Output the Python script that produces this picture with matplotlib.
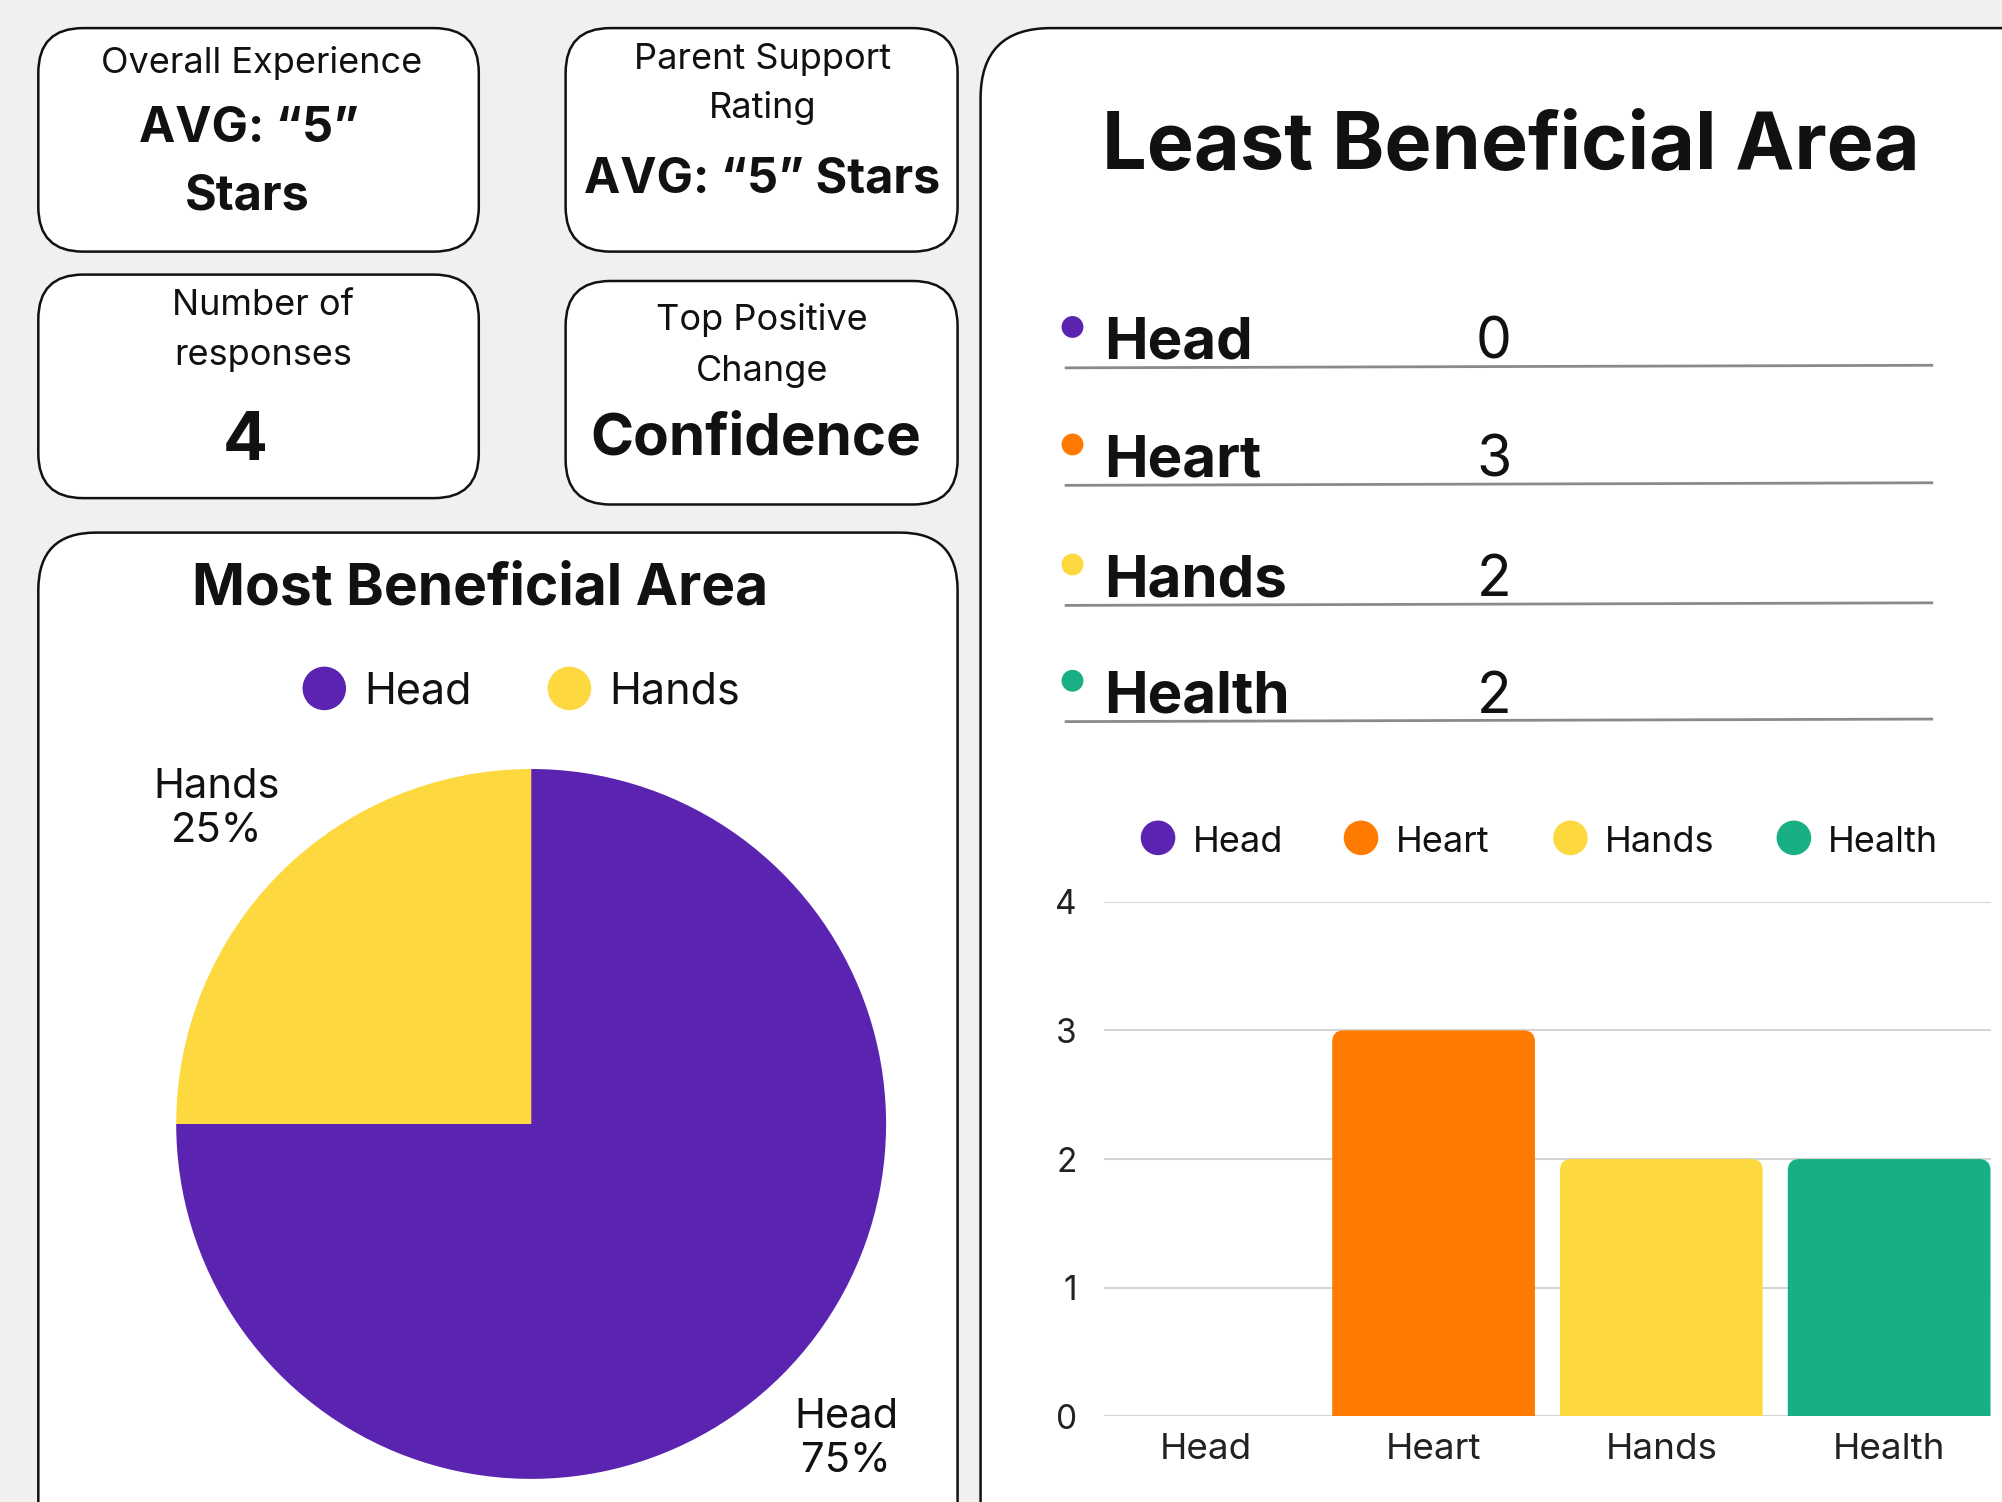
import matplotlib.pyplot as plt
from matplotlib.patches import FancyBboxPatch, Circle

plt.rcParams['font.family'] = ['Inter', 'DejaVu Sans']

# data
pie_labels = ['Head', 'Hands']
pie_values = [3, 1]
pie_colors = ['#5b24b0', '#fdd83f']

areas = ['Head', 'Heart', 'Hands', 'Health']
least_counts = [0, 3, 2, 2]
area_colors = ['#5b24b0', '#ff7a00', '#fdd83f', '#19af85']

n_responses = 4
top_change = 'Confidence'

# layout works in a 1568x1176 grid laid over the figure
W, H = 1568, 1176
INK = '#111111'

fig = plt.figure(figsize=(20.02, 15.02), dpi=100)
fig.patch.set_facecolor('#f0f0f0')
bg = fig.add_axes([0, 0, 1, 1])
bg.set_xlim(0, W)
bg.set_ylim(H, 0)
bg.axis('off')


def card(x0, y0, x1, y1, r):
    bg.add_patch(FancyBboxPatch((x0, y0), x1 - x0, y1 - y0,
                                boxstyle=f"round,pad=0,rounding_size={r}",
                                fc='white', ec=INK, lw=1.8))


def txt(x, y, s, size, bold=False, ha='center'):
    bg.text(x, y, s, fontsize=size, fontweight='bold' if bold else 'normal',
            ha=ha, va='baseline', color=INK)


# small cards
card(30, 22, 375, 197, 35)
txt(205, 57, 'Overall Experience', 26)
txt(195, 111, 'AVG: \u201c5\u201d', 35, bold=True)
txt(194, 164, 'Stars', 35, bold=True)

card(443, 22, 750, 197, 35)
txt(597, 54, 'Parent Support', 26)
txt(597, 92, 'Rating', 26)
txt(597, 151, 'AVG: \u201c5\u201d Stars', 35, bold=True)

card(30, 215, 375, 390, 35)
txt(206, 247, 'Number of', 26)
txt(206, 286, 'responses', 26)
txt(192, 360, str(n_responses), 48, bold=True)

card(443, 220, 750, 395, 35)
txt(597, 258, 'Top Positive', 26)
txt(597, 298, 'Change', 26)
txt(592, 356, top_change, 42, bold=True)

# pie card
card(30, 417, 750, 1240, 45)
txt(376, 473, 'Most Beneficial Area', 41, bold=True)
for lab, col, x in zip(pie_labels, pie_colors, [254, 446]):
    bg.add_patch(Circle((x, 539), 16.5, color=col))
    txt(x + 31, 551, lab, 31, ha='left')

pax = fig.add_axes([(416 - 278) / W, 1 - (880 + 278) / H, 556 / W, 556 / H])
total = sum(pie_values)
labels = [f"{l}\n{round(100 * v / total)}%" for l, v in zip(pie_labels, pie_values)]
wedges, texts = pax.pie(pie_values, colors=pie_colors, labels=labels,
                        startangle=90, counterclock=False, labeldistance=1.255,
                        wedgeprops=dict(linewidth=0))
for t in texts:
    t.set_ha('center')
    t.set_va('center')
    t.set_fontsize(30)
    t.set_color(INK)
    t.set_linespacing(1.2)
pax.set_xlim(-1, 1)
pax.set_ylim(-1, 1)

# right card
card(768, 22, 1640, 1240, 55)
txt(1183, 132, 'Least Beneficial Area', 57, bold=True)

baselines = [281, 373, 467, 558]
for name, val, col, yb in zip(areas, least_counts, area_colors, baselines):
    bg.add_patch(Circle((840, yb - 25), 8, color=col))
    txt(865, yb, name, 42, bold=True, ha='left')
    txt(1170, yb, str(val), 41)
    bg.plot([835, 1513], [yb + 7, yb + 5], color='#8a8a8a', lw=2)

for name, col, x in zip(areas, area_colors, [907, 1066, 1230, 1405]):
    bg.add_patch(Circle((x, 656), 13, color=col))
    txt(x + 27, 667, name, 26, ha='left')

ax = fig.add_axes([865 / W, 1 - 1109 / H, 694 / W, 403 / H])
ax.set_facecolor('none')
xs = range(len(areas))
bars = ax.bar(xs, least_counts, width=0.89, color=area_colors)
for rect in bars:
    h = rect.get_height()
    rect.set_visible(False)
    if h == 0:
        continue
    ax.add_patch(FancyBboxPatch((rect.get_x(), -0.2), rect.get_width(), h + 0.2,
                                boxstyle="round,pad=0,rounding_size=0.05",
                                mutation_aspect=1.77, fc=rect.get_facecolor(),
                                ec='none', zorder=3))
ax.set_xlim(-0.445, 3.445)
ax.set_ylim(0, 4)
ax.set_yticks(range(5))
ax.set_xticks(list(xs))
ax.set_xticklabels(areas)
ax.grid(axis='y', color='#d4d4d4', lw=1.5, zorder=0)
ax.set_axisbelow(True)
for s in ax.spines.values():
    s.set_visible(False)
ax.tick_params(axis='y', length=0, pad=20, labelsize=24, labelcolor='#222222')
ax.tick_params(axis='x', length=0, pad=12, labelsize=26.5, labelcolor='#222222')

fig.savefig('out.png', dpi=100, facecolor=fig.get_facecolor())
